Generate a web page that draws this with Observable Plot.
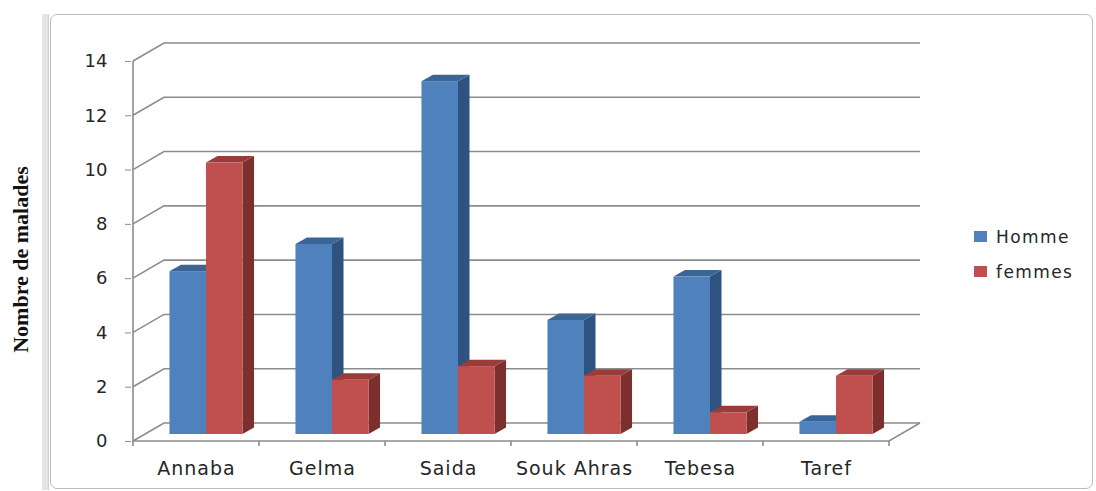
<!DOCTYPE html>
<html>
<head>
<meta charset="utf-8">
<script src="https://cdn.jsdelivr.net/npm/d3@7"></script>
<script src="https://cdn.jsdelivr.net/npm/@observablehq/plot@0.6"></script>
<style>
  body { margin: 0; background: #fff; }
  #wrap { position: relative; width: 1096px; height: 491px; overflow: hidden; }
  #wrap svg { position: absolute; left: 0; top: 0; }
  .strip { position: absolute; left: 42px; top: 14px; width: 6px; height: 476px;
           background: #e4e4e4; border-right: 1px solid #d2d2d2; }
  .frame { position: absolute; left: 50px; top: 14px; width: 1041px; height: 473px;
           border: 1.5px solid #bcbcbc; border-radius: 7px; pointer-events: none; }
  .legend { position: absolute; left: 974px; top: 226px; font-family: "DejaVu Sans", sans-serif;
            font-size: 17px; letter-spacing: 1.4px; color: #262626; }
  .legend .item { display: flex; align-items: center; height: 21px; margin-bottom: 14px; }
  .legend .sw { width: 13px; height: 11px; margin-right: 9px; }
  svg [aria-label="x-axis tick label"] { letter-spacing: 1px; }
</style>
</head>
<body>
<div id="wrap"><div class="strip"></div><div class="frame"></div></div>
<script>
// Regions (categories) and the two series
const regions = ["Annaba", "Gelma", "Saida", "Souk Ahras", "Tebesa", "Taref"];
const seriesNames = ["Homme", "femmes"];
const homme = [6, 7, 13, 4.2, 5.8, 0.45];
const femmes = [10, 2, 2.5, 2.15, 0.8, 2.15];
const yTicks = [0, 2, 4, 6, 8, 10, 12, 14];
const yTitle = "Nombre de malades";

// Face colours per series: front, right side, top
const frontColors = ["#4f81bd", "#c0504d"];
const sideColors = ["#2f5381", "#7d2f2d"];
const topColors = ["#3b6597", "#9a3d3a"];

const rows = regions.flatMap((region, i) => [
  {region, series: seriesNames[0], s: 0, value: homme[i]},
  {region, series: seriesNames[1], s: 1, value: femmes[i]}
]);

// Walls, floor and 3‑D columns drawn with the plot's x (band) and y scales
function chart3d(index, {x, y}) {
  const g = d3.create("svg:g");
  const bw = x(regions[1]) - x(regions[0]);
  const x0 = x(regions[0]);
  const x1 = x(regions[regions.length - 1]) + bw;
  const y0 = y(0);
  const DX = 31, DY = -18; // wall depth

  const grid = g.append("g")
    .attr("fill", "none")
    .attr("stroke", "#8c8c8c")
    .attr("stroke-width", 1.6);
  for (const t of yTicks) {
    grid.append("path").attr("d", `M${x0},${y(t)}L${x0 + DX},${y(t) + DY}H${x1 + DX}`);
  }
  grid.append("path").attr("d", `M${x0},${y(yTicks[yTicks.length - 1])}V${y0}H${x1}l${DX},${DY}`);
  for (let i = 0; i <= regions.length; i++) {
    grid.append("path").attr("d", `M${x0 + i * bw},${y0}v5`);
  }

  // columns: painter's order, left to right
  const barW = bw * 0.29;
  const fdx = 10, fdy = -7;     // front face sits inside the floor
  const sdx = 11.5, sdy = -6.5; // column depth
  const bars = g.append("g");
  for (const d of rows) {
    const left = x(d.region) + bw / 2 - barW + d.s * barW + fdx;
    const right = left + barW;
    const top = y(d.value) + fdy;
    const bottom = y0 + fdy;
    bars.append("path")
      .attr("fill", sideColors[d.s])
      .attr("d", `M${right},${bottom}V${top}l${sdx},${sdy}V${bottom + sdy}Z`);
    bars.append("path")
      .attr("fill", topColors[d.s])
      .attr("d", `M${left},${top}l${sdx},${sdy}H${right + sdx}l${-sdx},${-sdy}Z`);
    bars.append("rect")
      .attr("fill", frontColors[d.s])
      .attr("x", left).attr("y", top)
      .attr("width", barW).attr("height", bottom - top);
  }
  return g.node();
}

const plot = Plot.plot({
  width: 1096,
  height: 491,
  marginLeft: 131,
  marginRight: 206,
  marginTop: 61,
  marginBottom: 50,
  style: {fontFamily: "DejaVu Sans, sans-serif", fontSize: "18px", color: "#262626", background: "transparent"},
  x: {type: "band", domain: regions, padding: 0},
  y: {domain: [0, 14]},
  marks: [
    chart3d,
    Plot.axisY(yTicks, {tickSize: 6, tickPadding: 18, stroke: "#8c8c8c", fill: "#262626", fontSize: 18, label: null}),
    Plot.axisX({tickSize: 0, tickPadding: 20, fill: "#262626", fontSize: 19, label: null}),
    Plot.text([yTitle], {
      text: (d) => d, frameAnchor: "left", textAnchor: "middle", rotate: -90, dx: -111, dy: 8,
      fontFamily: "Liberation Serif, serif", fontWeight: "bold", fontSize: 22, fill: "#111"
    })
  ]
});

const wrap = d3.select("#wrap");
wrap.node().insertBefore(plot, wrap.node().firstChild);

const legend = wrap.append("div").attr("class", "legend");
seriesNames.forEach((name, i) => {
  const item = legend.append("div").attr("class", "item");
  item.append("div").attr("class", "sw").style("background", frontColors[i]);
  item.append("span").text(name);
});
</script>
</body>
</html>
